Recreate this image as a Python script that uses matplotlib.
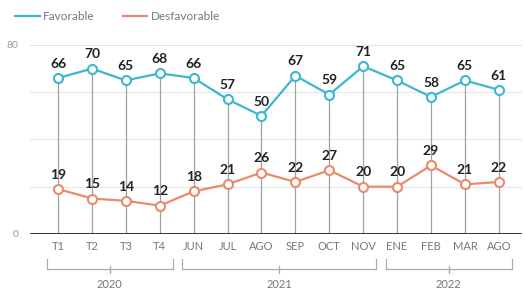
import matplotlib
matplotlib.use('Agg')
import matplotlib.pyplot as plt

# data
labels = ['T1', 'T2', 'T3', 'T4', 'JUN', 'JUL', 'AGO', 'SEP', 'OCT', 'NOV',
          'ENE', 'FEB', 'MAR', 'AGO']
favorable = [66, 70, 65, 68, 66, 57, 50, 67, 59, 71, 65, 58, 65, 61]
desfavorable = [19, 15, 14, 12, 18, 21, 26, 22, 27, 20, 20, 29, 21, 22]
years = ['2020', '2021', '2022']
year_spans = [(0, 3), (4, 9), (10, 13)]

blue = '#3db6d3'
orange = '#e98a6c'
grey_text = '#777777'

plt.rcParams['font.family'] = ['Lato', 'DejaVu Sans']

fig = plt.figure(figsize=(5.25, 2.98), dpi=100)
ax = fig.add_axes([0.057, 0.215, 0.937, 0.634])

x = list(range(len(labels)))

for yv in [20, 40, 60, 80]:
    ax.axhline(yv, color='#e6e6e6', lw=0.8, zorder=0)
ax.vlines(x, 0, favorable, color='#a0a0a0', lw=0.9, zorder=1)
ax.axhline(0, color='#222222', lw=2.0, zorder=3)

ax.plot(x, favorable, color=blue, lw=1.6, marker='o', ms=6.5,
        mfc='white', mec=blue, mew=1.5, zorder=4, clip_on=False)
ax.plot(x, desfavorable, color=orange, lw=1.6, marker='o', ms=6.5,
        mfc='white', mec=orange, mew=1.5, zorder=4, clip_on=False)

for xi, v in zip(x, favorable):
    ax.annotate(str(v), (xi, v), xytext=(0, 6), textcoords='offset points',
                ha='center', va='bottom', fontsize=10, fontweight='bold',
                color='#222222')
for xi, v in zip(x, desfavorable):
    ax.annotate(str(v), (xi, v), xytext=(0, 6), textcoords='offset points',
                ha='center', va='bottom', fontsize=10, fontweight='bold',
                color='#222222')

ax.set_xlim(-0.83, 13.68)
ax.set_ylim(0, 80)
ax.set_yticks([0, 80])
ax.set_yticklabels(['0', '80'], color='#999999', fontsize=7.5)
ax.set_xticks(x)
ax.set_xticklabels(labels, color=grey_text, fontsize=8)
ax.tick_params(length=0, pad=5)
ax.tick_params(axis='y', pad=8)
for s in ax.spines.values():
    s.set_visible(False)

# year brackets under the tick labels
tr = ax.get_xaxis_transform()
for year, (a, b) in zip(years, year_spans):
    x0, x1 = a - 0.33, b + 0.38
    yt, yb = -0.132, -0.185
    ax.plot([x0, x0, x1, x1], [yt, yb, yb, yt], color='#aaaaaa', lw=0.9,
            transform=tr, clip_on=False)
    xm = (x0 + x1) / 2
    ax.plot([xm, xm], [yb + 0.015, yb - 0.02], color='#aaaaaa', lw=0.9,
            transform=tr, clip_on=False)
    ax.text(xm, -0.27, year, transform=tr, ha='center', va='center',
            fontsize=8, color=grey_text)

# legend at the top
fig.lines.append(plt.Line2D([0.029, 0.076], [0.945, 0.945], color=blue, lw=1.6,
                            transform=fig.transFigure))
fig.text(0.082, 0.945, 'Favorable', color=grey_text, fontsize=8.5, va='center')
fig.lines.append(plt.Line2D([0.234, 0.28], [0.945, 0.945], color=orange, lw=1.6,
                            transform=fig.transFigure))
fig.text(0.288, 0.945, 'Desfavorable', color=grey_text, fontsize=8.5, va='center')

plt.savefig('out.png', dpi=100)
plt.close()
